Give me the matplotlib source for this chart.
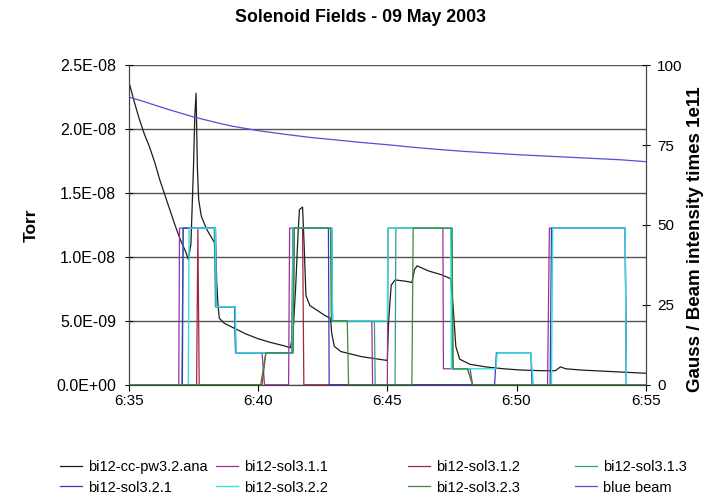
import matplotlib
matplotlib.use("Agg")
import matplotlib.pyplot as plt

plt.rcParams['font.family'] = ['Liberation Sans', 'DejaVu Sans']

# minutes after 6:35
tick_minutes = [0, 5, 10, 15, 20]
tick_labels = ['6:35', '6:40', '6:45', '6:50', '6:55']

# vacuum gauge (Torr)
ana_t = [0.0, 0.2, 0.4, 0.6, 0.8, 1.0, 1.2, 1.4, 1.6, 1.8, 2.0, 2.2, 2.3, 2.4, 2.45,
         2.5, 2.55, 2.6, 2.65, 2.7, 2.8, 3.0, 3.2, 3.35, 3.4, 3.45, 3.5, 3.7, 4.0, 4.5,
         5.0, 5.5, 6.0, 6.25, 6.35, 6.45, 6.55, 6.6, 6.72, 6.78, 6.85, 7.0, 7.3, 7.6,
         7.8, 7.85, 7.95, 8.2, 8.6, 9.0, 9.5, 10.0, 10.05, 10.15, 10.3, 10.7, 10.95,
         11.05, 11.15, 11.6, 12.1, 12.45, 12.55, 12.65, 12.8, 13.2, 13.8, 14.5, 15.2,
         16.0, 16.5, 16.7, 16.9, 17.5, 18.5, 19.5, 20.0]
ana_torr = [2.37e-8, 2.22e-8, 2.08e-8, 1.96e-8, 1.86e-8, 1.74e-8, 1.6e-8, 1.48e-8, 1.36e-8,
            1.24e-8, 1.13e-8, 1.04e-8, 0.98e-8, 1.1e-8, 1.4e-8, 1.7e-8, 2.1e-8, 2.28e-8,
            1.7e-8, 1.45e-8, 1.32e-8, 1.22e-8, 1.15e-8, 1.1e-8, 0.8e-8, 0.62e-8, 0.52e-8,
            0.48e-8, 0.45e-8, 0.4e-8, 0.36e-8, 0.33e-8, 0.305e-8, 0.29e-8, 0.4e-8, 0.75e-8,
            1.2e-8, 1.37e-8, 1.39e-8, 1.1e-8, 0.7e-8, 0.62e-8, 0.58e-8, 0.54e-8, 0.52e-8,
            0.4e-8, 0.3e-8, 0.26e-8, 0.24e-8, 0.22e-8, 0.205e-8, 0.19e-8, 0.5e-8, 0.78e-8,
            0.82e-8, 0.81e-8, 0.8e-8, 0.9e-8, 0.93e-8, 0.89e-8, 0.86e-8, 0.83e-8, 0.6e-8,
            0.3e-8, 0.2e-8, 0.16e-8, 0.14e-8, 0.125e-8, 0.115e-8, 0.11e-8, 0.11e-8, 0.14e-8,
            0.125e-8, 0.115e-8, 0.105e-8, 0.095e-8, 0.09e-8]

# solenoid settings (Gauss), as (minute, value) breakpoints
sol311_t = [0, 1.93, 1.96, 3.35, 3.38, 4.1, 4.13, 5.15, 5.25, 6.18, 6.22, 7.85, 7.88, 9.4,
            9.43, 10.0, 10.03, 12.15, 12.17, 13.2, 13.3, 16.2, 16.27, 19.2, 19.25, 20]
sol311_g = [0, 0, 49, 49, 24.4, 24.4, 10, 10, 0, 0, 49, 49, 20, 20,
            0, 0, 49, 49, 5, 5, 0, 0, 49, 49, 0, 0]

sol312_t = [0, 2.62, 2.67, 2.72, 5.15, 5.3, 6.3, 6.35, 6.72, 6.77, 20]
sol312_g = [0, 0, 49, 0, 0, 10, 10, 49, 49, 0, 0]

sol313_t = [0, 2.05, 2.1, 3.3, 3.35, 4.1, 4.13, 6.3, 6.35, 7.85, 7.88, 9.5, 9.53, 10.3,
            10.33, 12.5, 12.53, 13.1, 13.3, 20]
sol313_g = [0, 0, 49, 49, 24.4, 24.4, 10, 10, 49, 49, 20, 20, 0, 0,
            49, 49, 5, 5, 0, 0]

sol321_t = [0, 2.07, 2.1, 3.35, 3.38, 4.1, 4.13, 6.35, 6.4, 7.72, 7.75, 14.15, 14.22,
            15.55, 15.6, 16.3, 16.35, 19.2, 19.25, 20]
sol321_g = [0, 0, 49, 49, 24.4, 24.4, 10, 10, 49, 49, 0, 0, 10,
            10, 0, 0, 49, 49, 0, 0]

sol322_t = [0, 2.3, 2.33, 3.35, 3.38, 4.12, 4.15, 6.33, 6.37, 7.85, 7.88, 10.0, 10.03,
            12.45, 12.48, 14.2, 14.25, 15.55, 15.65, 16.35, 16.4, 19.2, 19.25, 20]
sol322_g = [0, 0, 49, 49, 24.4, 24.4, 10, 10, 49, 49, 20, 20, 49,
            49, 5, 5, 10, 10, 0, 0, 49, 49, 0, 0]

sol323_t = [0, 5.1, 5.3, 6.35, 6.4, 7.8, 7.83, 8.45, 8.5, 10.95, 11.0, 12.5, 12.55,
            13.1, 13.3, 20]
sol323_g = [0, 0, 10, 10, 49, 49, 20, 20, 0, 0, 49, 49, 5, 5, 0, 0]

# blue ring beam intensity (1e11)
beam_t = [0, 0.5, 1, 1.5, 2, 2.5, 3, 3.5, 4, 5, 6, 7, 8, 9, 10, 11, 12, 13, 14, 15, 16,
          17, 18, 19, 20]
beam_i = [90, 88.8, 87.5, 86.2, 85, 83.8, 82.8, 81.8, 80.9, 79.5, 78.4, 77.4, 76.6, 75.8,
          75.1, 74.3, 73.6, 73.0, 72.5, 72.0, 71.6, 71.2, 70.8, 70.4, 69.8]

left_ticks = [0, 0.5e-8, 1.0e-8, 1.5e-8, 2.0e-8, 2.5e-8]

fig = plt.figure(figsize=(7.12, 5.01), dpi=100)
ax1 = fig.add_axes([0.181, 0.232, 0.726, 0.638])
ax2 = ax1.twinx()

for y in left_ticks:
    ax1.axhline(y, color='#555555', lw=1.0, zorder=0)

l_ana, = ax1.plot(ana_t, ana_torr, color='#1e1e1e', lw=0.9, label='bi12-cc-pw3.2.ana')

l311, = ax2.plot(sol311_t, sol311_g, color='#993399', lw=0.9, label='bi12-sol3.1.1')
l312, = ax2.plot(sol312_t, sol312_g, color='#a0283c', lw=0.9, label='bi12-sol3.1.2')
l313, = ax2.plot(sol313_t, sol313_g, color='#3a9a8a', lw=0.9, label='bi12-sol3.1.3')
l321, = ax2.plot(sol321_t, sol321_g, color='#3a3ac0', lw=0.9, label='bi12-sol3.2.1')
l322, = ax2.plot(sol322_t, sol322_g, color='#30e0e0', lw=1.0, label='bi12-sol3.2.2')
l323, = ax2.plot(sol323_t, sol323_g, color='#3a8a3a', lw=0.9, label='bi12-sol3.2.3')
lbeam, = ax2.plot(beam_t, beam_i, color='#5050d8', lw=0.9, label='blue beam')

ax1.set_xlim(0, 20)
ax1.set_ylim(0, 2.5e-8)
ax2.set_ylim(0, 100)
ax1.set_xticks(tick_minutes)
ax1.set_xticklabels(tick_labels)
ax1.set_yticks(left_ticks)
ax1.set_yticklabels(['{:.1E}'.format(v) for v in left_ticks])
ax2.set_yticks([0, 25, 50, 75, 100])

for ax in (ax1, ax2):
    ax.spines['top'].set_visible(False)
    for s in ax.spines.values():
        s.set_color('#444444')
ax1.tick_params(axis='y', direction='inout', length=6, labelsize=11.5, pad=6)
ax1.tick_params(axis='x', direction='out', length=4, labelsize=11, pad=3)
ax2.tick_params(axis='y', direction='inout', length=6, labelsize=11, pad=5)

ax1.set_ylabel('Torr', fontsize=12.5, fontweight='bold')
ax1.yaxis.set_label_coords(-0.174, 0.5)
ax2.set_ylabel('Gauss / Beam intensity times 1e11', fontsize=13.5, fontweight='bold')
ax2.yaxis.set_label_coords(1.08, 0.455)

fig.text(0.507, 1 - 18 / 501, 'Solenoid Fields - 09 May 2003', ha='center', va='center',
         fontsize=12.8, fontweight='bold')

# legend: four columns placed like the original layout
columns = [(l_ana, l321), (l311, l322), (l312, l323), (l313, lbeam)]
col_x = [60, 216, 408, 575]
for (h1, h2), x in zip(columns, col_x):
    fig.legend([h1, h2], [h1.get_label(), h2.get_label()], loc='upper left',
               bbox_to_anchor=(x / 712, 1 - 460 / 501), frameon=False, fontsize=10.5,
               handlelength=1.5, handletextpad=0.4, borderpad=0, borderaxespad=0,
               labelspacing=0.45)

fig.savefig('out.png', dpi=100)
